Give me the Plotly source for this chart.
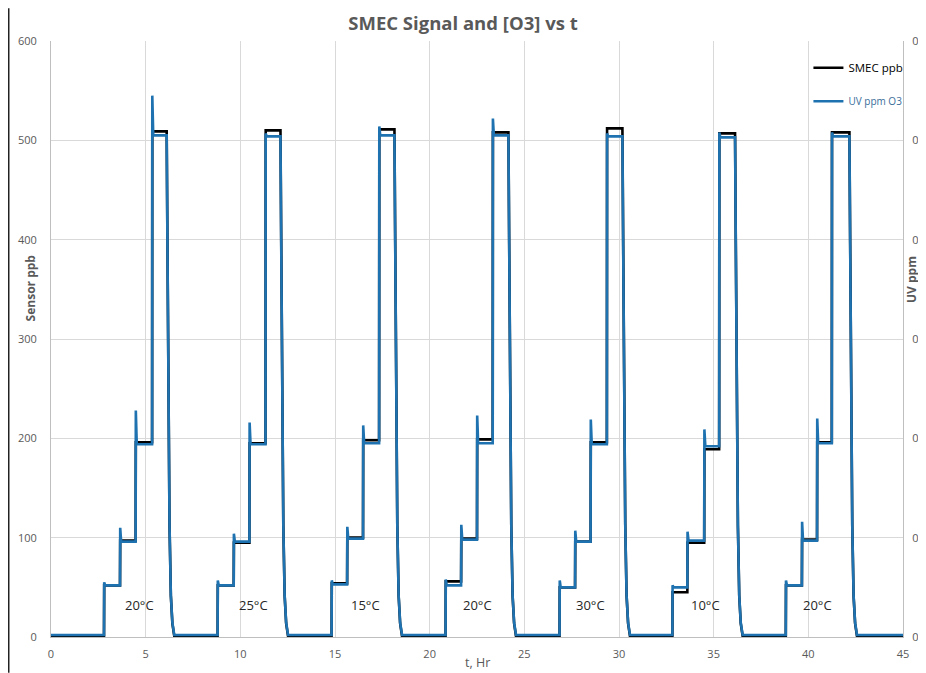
import plotly.graph_objects as go

# ---- data (hours, ppm for UV, ppb for SMEC) ----
rise_t  = [2.80, 8.80, 14.82, 20.84, 26.86, 32.82, 38.81]
step2_t = [3.645, 9.65, 15.64, 21.66, 27.68, 33.61, 39.66]
step3_t = [4.47, 10.48, 16.48, 22.50, 28.50, 34.50, 40.46]
step4_t = [5.34, 11.33, 17.33, 23.33, 29.36, 35.29, 41.24]
fall_t  = [6.11, 12.12, 18.14, 24.16, 30.18, 36.13, 42.17]

uv_l1 = [0.052, 0.052, 0.053, 0.052, 0.050, 0.050, 0.052]
uv_l2 = [0.096, 0.096, 0.099, 0.098, 0.096, 0.097, 0.097]
uv_l3 = [0.194, 0.194, 0.195, 0.195, 0.194, 0.192, 0.195]
uv_l4 = [0.505, 0.504, 0.505, 0.505, 0.504, 0.503, 0.504]
uv_sp1 = [0.055, 0.057, 0.057, 0.058, 0.057, 0.052, 0.057]
uv_sp2 = [0.110, 0.104, 0.111, 0.113, 0.107, 0.106, 0.116]
uv_sp3 = [0.228, 0.216, 0.213, 0.223, 0.219, 0.209, 0.220]
uv_sp4 = [0.545, 0.507, 0.514, 0.522, 0.507, 0.508, 0.508]
uv_base = 0.002

smec_l1 = [52, 52, 54, 56, 50, 45, 52]
smec_l2 = [97, 95, 100, 99, 96, 95, 98]
smec_l3 = [196, 195, 198, 199, 196, 189, 196]
smec_l4 = [509, 510, 511, 508, 512, 507, 508]
smec_base = 1

# shape of the fall back to zero after each cycle (hours after fall, fraction of top level)
decay_dt = [0.0, 0.04, 0.09, 0.15, 0.22, 0.30, 0.40]
decay_frac = [1.0, 0.78, 0.47, 0.22, 0.08, 0.025, 0.0]

temps = ["20°C", "25°C", "15°C", "20°C", "30°C", "10°C", "20°C"]
temp_x = [4.70, 10.67, 16.62, 22.50, 28.50, 34.55, 40.50]
temp_y = 32
t_end = 45.0


def build(levels, spikes, base):
    xs, ys = [0.0], [base]
    for i in range(len(rise_t)):
        steps = [rise_t[i], step2_t[i], step3_t[i], step4_t[i]]
        prev = base
        for k, ts in enumerate(steps):
            lv = levels[k][i]
            sp = spikes[k][i] if spikes else lv
            xs += [ts, ts + 0.01, ts + 0.06]
            ys += [prev, sp, lv]
            prev = lv
        top = levels[3][i]
        for dt, fr in zip(decay_dt, decay_frac):
            xs.append(fall_t[i] + dt)
            ys.append(base + (top - base) * fr)
    xs.append(t_end)
    ys.append(base)
    return xs, ys


uv_x, uv_y = build([uv_l1, uv_l2, uv_l3, uv_l4], [uv_sp1, uv_sp2, uv_sp3, uv_sp4], uv_base)
sm_x, sm_y = build([smec_l1, smec_l2, smec_l3, smec_l4], None, smec_base)

grey = "#595959"
fig = go.Figure()
fig.add_trace(go.Scatter(x=sm_x, y=sm_y, mode="lines", name="SMEC ppb",
                         line=dict(color="black", width=2.6), yaxis="y", legend="legend"))
fig.add_trace(go.Scatter(x=uv_x, y=uv_y, mode="lines", name="UV ppm O3",
                         line=dict(color="#1f72b0", width=2.6), yaxis="y2", legend="legend2"))

for lab, tx in zip(temps, temp_x):
    fig.add_annotation(x=tx, y=temp_y, text=lab, showarrow=False, xref="x", yref="y",
                       xanchor="center", font=dict(size=13, color="#262626", family="Open Sans"))

# axis titles placed as in the reference
fig.add_annotation(text="<b>Sensor ppb</b>", x=-0.0246, y=0.585, xref="paper", yref="paper",
                   xanchor="center", yanchor="middle",
                   textangle=-90, showarrow=False, font=dict(size=12, color=grey))
fig.add_annotation(text="<b>UV ppm</b>", x=1.0106, y=0.599, xref="paper", yref="paper",
                   xanchor="center", yanchor="middle",
                   textangle=-90, showarrow=False, font=dict(size=12, color=grey))
fig.add_annotation(text="t, Hr", x=0.5, y=-0.0436, xref="paper", yref="paper",
                   xanchor="center", yanchor="middle",
                   showarrow=False, font=dict(size=12.5, color=grey))

fig.add_shape(type="line", xref="paper", yref="paper", x0=-0.0496, x1=-0.0496,
              y0=-0.06, y1=1.055, line=dict(color="#222222", width=1.5))

fig.update_layout(
    width=918, height=665,
    margin=dict(l=43, r=23, t=33, b=36, autoexpand=False),
    paper_bgcolor="white", plot_bgcolor="white",
    font=dict(family="Open Sans", color=grey, size=11),
    title=dict(text="<b>SMEC Signal and [O3] vs t</b>", x=455 / 918, xanchor="center",
               xref="container", yref="container",
               y=1 - 16 / 665, yanchor="middle", font=dict(size=18.5, color=grey)),
    showlegend=True,
    legend=dict(x=0.889, y=0.955, xanchor="left", yanchor="middle", bgcolor="rgba(0,0,0,0)",
                font=dict(size=11.5, color="black"), itemwidth=30),
    legend2=dict(x=0.889, y=0.899, xanchor="left", yanchor="middle", bgcolor="rgba(0,0,0,0)",
                 font=dict(size=10, color="#3a6e9a"), itemwidth=30),
    xaxis=dict(range=[0, 45], dtick=5, showgrid=True, gridcolor="#d9d9d9", automargin=False,
               zeroline=False, showline=True, linecolor="#bfbfbf", ticks="",
               ticklabelstandoff=7, tickfont=dict(size=11, color=grey)),
    yaxis=dict(range=[0, 600], dtick=100, showgrid=True, gridcolor="#d9d9d9", automargin=False,
               zeroline=False, showline=True, linecolor="#bfbfbf", ticks="",
               ticklabelstandoff=11, tickfont=dict(size=11, color=grey)),
    yaxis2=dict(range=[0, 0.6], dtick=0.1, tickformat=".1f", overlaying="y", side="right",
                automargin=False, ticklabelstandoff=6,
                showgrid=False, zeroline=False, showline=True, linecolor="#bfbfbf", ticks="",
                tickfont=dict(size=11, color=grey)),
)

fig.write_html("out.html")
